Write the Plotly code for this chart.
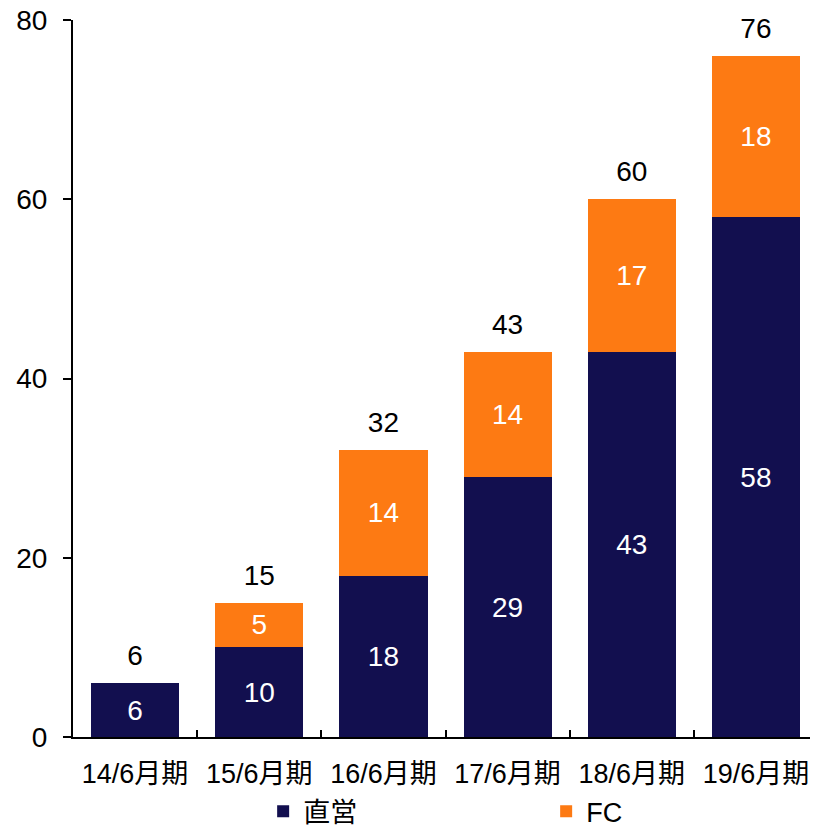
import plotly.graph_objects as go

categories = ["14/6月期", "15/6月期", "16/6月期", "17/6月期", "18/6月期", "19/6月期"]
direct = [6, 10, 18, 29, 43, 58]
fc = [None, 5, 14, 14, 17, 18]
totals = [6, 15, 32, 43, 60, 76]
y_ticks = [0, 20, 40, 60, 80]

NAVY = "#120f4f"
ORANGE = "#fd7a13"
FONT = "Liberation Sans, Arial, Noto Sans CJK JP"

fig = go.Figure()
fig.add_trace(go.Bar(
    x=categories, y=direct, name="直営", marker=dict(color=NAVY, line=dict(width=0)),
    text=[str(v) for v in direct], textposition="inside", insidetextanchor="middle",
    textfont=dict(color="white", size=28, family=FONT), constraintext="none",
))
fig.add_trace(go.Bar(
    x=categories, y=fc, name="FC", marker=dict(color=ORANGE, line=dict(width=0)),
    text=[str(v) if v is not None else "" for v in fc], textposition="inside",
    insidetextanchor="middle",
    textfont=dict(color="white", size=28, family=FONT), constraintext="none",
))
fig.add_trace(go.Scatter(
    x=categories, y=totals, mode="markers+text", text=[str(v) for v in totals],
    marker=dict(size=16, opacity=0),
    textposition="top center", textfont=dict(color="black", size=28, family=FONT),
    showlegend=False, hoverinfo="skip", cliponaxis=False,
))

fig.update_layout(
    width=810, height=821,
    margin=dict(l=65, r=0, t=12, b=92, autoexpand=False),
    barmode="stack", bargap=0.29,
    plot_bgcolor="white", paper_bgcolor="white",
    font=dict(family=FONT, size=27, color="black"),
    uniformtext=dict(mode="show", minsize=10),
    legend=dict(
        orientation="h", xref="container", yref="container",
        x=0.315, xanchor="left", y=0.021, yanchor="middle",
        font=dict(size=27, family=FONT), entrywidth=238, entrywidthmode="pixels",
        traceorder="normal",
    ),
)
fig.update_xaxes(
    showline=True, linecolor="black", linewidth=2, automargin=False,
    ticks="inside", tickson="boundaries", ticklen=7, tickcolor="black", tickwidth=2,
    tickfont=dict(size=27, family=FONT), showgrid=False, ticklabelstandoff=12,
    ticklabeloverflow="allow",
)
fig.update_yaxes(
    range=[0, 80], tickmode="array", tickvals=y_ticks,
    ticktext=[str(v) for v in y_ticks],
    showline=True, linecolor="black", linewidth=2, automargin=False,
    ticks="outside", ticklen=8, tickcolor="black", tickwidth=2,
    tickfont=dict(size=28, family=FONT), showgrid=False, zeroline=False,
    ticklabelstandoff=10, ticklabeloverflow="allow",
)

fig.write_html("out.html")
